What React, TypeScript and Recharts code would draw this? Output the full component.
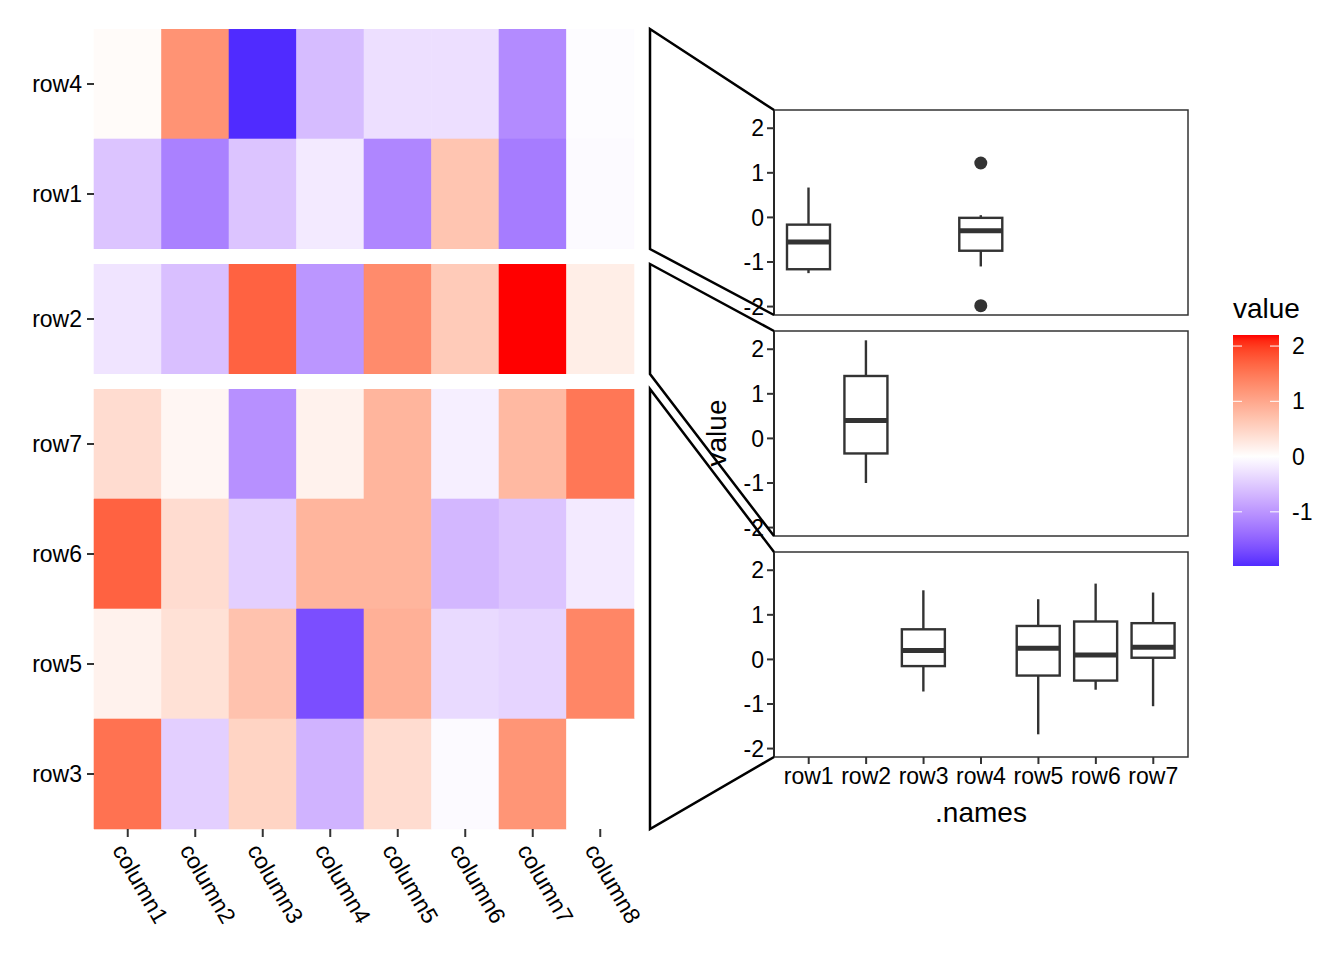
import React from 'react'
import { BarChart, Bar, XAxis, YAxis, Cell, ComposedChart } from 'recharts'

// heatmap values, one array per row, columns 1..8
const columns = ['column1', 'column2', 'column3', 'column4', 'column5', 'column6', 'column7', 'column8']
const rowNames = ['row1', 'row2', 'row3', 'row4', 'row5', 'row6', 'row7']
const row1 = [-0.55, -1.2, -0.55, -0.2, -1.15, 0.67, -1.25, -0.05]
const row2 = [-0.25, -0.6, 1.7, -1.0, 1.3, 0.6, 2.2, 0.2]
const row3 = [1.55, -0.45, 0.5, -0.72, 0.4, -0.05, 1.2, 0.0]
const row4 = [0.05, 1.22, -1.98, -0.63, -0.3, -0.3, -1.1, -0.03]
const row5 = [0.15, 0.35, 0.7, -1.68, 0.9, -0.35, -0.4, 1.35]
const row6 = [1.7, 0.4, -0.45, 0.85, 0.85, -0.68, -0.55, -0.2]
const row7 = [0.4, 0.1, -1.05, 0.15, 0.85, -0.15, 0.8, 1.5]

// row split of the heatmap (top to bottom)
const groups = [
  ['row4', 'row1'],
  ['row2'],
  ['row7', 'row6', 'row5', 'row3'],
]
const legendTicks = [2, 1, 0, -1]
const boxTicks = [-2, -1, 0, 1, 2]

const values: Record<string, number[]> = { row1, row2, row3, row4, row5, row6, row7 }
const all = Object.values(values).flat()
const dataMin = Math.min(...all)
const dataMax = Math.max(...all)
const limit = Math.max(Math.abs(dataMin), Math.abs(dataMax))
const Y_MIN = dataMin - 0.05 * (dataMax - dataMin)
const Y_MAX = dataMax + 0.05 * (dataMax - dataMin)

// --- colour: blue / white / red, interpolated in Lab ---
function toLab(hex: string) {
  const c = [1, 3, 5].map((i) => {
    const v = parseInt(hex.slice(i, i + 2), 16) / 255
    return v <= 0.04045 ? v / 12.92 : Math.pow((v + 0.055) / 1.055, 2.4)
  })
  const X = (0.4124 * c[0] + 0.3576 * c[1] + 0.1805 * c[2]) / 0.95047
  const Y = 0.2126 * c[0] + 0.7152 * c[1] + 0.0722 * c[2]
  const Z = (0.0193 * c[0] + 0.1192 * c[1] + 0.9505 * c[2]) / 1.08883
  const f = (t: number) => (t > 0.008856 ? Math.cbrt(t) : 7.787 * t + 16 / 116)
  return [116 * f(Y) - 16, 500 * (f(X) - f(Y)), 200 * (f(Y) - f(Z))]
}
function fromLab(L: number, a: number, b: number) {
  const fy = (L + 16) / 116
  const fx = fy + a / 500
  const fz = fy - b / 200
  const g = (t: number) => (t ** 3 > 0.008856 ? t ** 3 : (t - 16 / 116) / 7.787)
  const X = g(fx) * 0.95047
  const Y = g(fy)
  const Z = g(fz) * 1.08883
  const lin = [
    3.2406 * X - 1.5372 * Y - 0.4986 * Z,
    -0.9689 * X + 1.8758 * Y + 0.0415 * Z,
    0.0557 * X - 0.204 * Y + 1.057 * Z,
  ]
  return (
    '#' +
    lin
      .map((v) => {
        const s = v <= 0.0031308 ? 12.92 * v : 1.055 * Math.pow(v, 1 / 2.4) - 0.055
        const n = Math.round(Math.min(1, Math.max(0, s)) * 255)
        return n.toString(16).padStart(2, '0')
      })
      .join('')
  )
}
const WHITE = toLab('#ffffff')
const RED = toLab('#ff0000')
const BLUE = toLab('#0000ff')
function fillFor(v: number) {
  const t = Math.min(1, Math.abs(v) / limit)
  const end = v >= 0 ? RED : BLUE
  return fromLab(
    WHITE[0] + (end[0] - WHITE[0]) * t,
    WHITE[1] + (end[1] - WHITE[1]) * t,
    WHITE[2] + (end[2] - WHITE[2]) * t
  )
}

// --- boxplot stats (type 7 quantiles, 1.5 IQR whiskers) ---
function quantile(sorted: number[], p: number) {
  const h = (sorted.length - 1) * p
  const lo = Math.floor(h)
  return sorted[lo] + (h - lo) * ((sorted[lo + 1] ?? sorted[lo]) - sorted[lo])
}
function boxStats(arr: number[]) {
  const s = [...arr].sort((a, b) => a - b)
  const q1 = quantile(s, 0.25)
  const med = quantile(s, 0.5)
  const q3 = quantile(s, 0.75)
  const iqr = q3 - q1
  const inside = s.filter((v) => v >= q1 - 1.5 * iqr && v <= q3 + 1.5 * iqr)
  return {
    q1,
    med,
    q3,
    lo: Math.min(...inside),
    hi: Math.max(...inside),
    out: s.filter((v) => v < q1 - 1.5 * iqr || v > q3 + 1.5 * iqr),
  }
}
const stats: Record<string, ReturnType<typeof boxStats>> = {}
rowNames.forEach((r) => (stats[r] = boxStats(values[r])))

// --- layout ---
const FONT = '"Liberation Sans", Arial, Helvetica, sans-serif'
const TICK_FS = 23
const TITLE_FS = 28
const HM_LEFT = 94
const HM_RIGHT = 634
const ROW_H = 110
const GAP = 15
const HM_TOP = 29
const heatBoxes = (() => {
  let y = HM_TOP
  return groups.map((g) => {
    const top = y
    const bottom = y + g.length * ROW_H
    y = bottom + GAP
    return { top, bottom }
  })
})()
const PANEL_LEFT = 774
const PANEL_RIGHT = 1188
const panelBoxes = [
  { top: 110, bottom: 315 },
  { top: 331, bottom: 536 },
  { top: 552, bottom: 757 },
]
const CONN_X = 650
const LEG_X = 1233
const LEG_W = 46
const LEG_TOP = 335
const LEG_BOT = 566
const legY = (v: number) => LEG_TOP + ((dataMax - v) / (dataMax - dataMin)) * (LEG_BOT - LEG_TOP)

function ColumnTick(props: any) {
  const { x, y, payload } = props
  const name = columns[Math.floor(payload.value)]
  return (
    <g transform={`translate(${x - 9},${y + 7})`}>
      <text transform="rotate(60)" textAnchor="start" dominantBaseline="central" fontSize={TICK_FS} fill="#000">
        {name}
      </text>
    </g>
  )
}

function HeatGroup({ rows, top, bottom, showX }: { rows: string[]; top: number; bottom: number; showX: boolean }) {
  const data = rows.map((r) => {
    const o: Record<string, any> = { name: r }
    columns.forEach((c) => (o[c] = 1))
    return o
  })
  const extra = showX ? 125 : 0
  const padR = 50
  return (
    <div style={{ position: 'absolute', left: 0, top }}>
      <BarChart
        width={HM_RIGHT + padR}
        height={bottom - top + extra}
        data={data}
        layout="vertical"
        margin={{ top: 0, right: padR, bottom: 0, left: 0 }}
        barCategoryGap={0}
        barGap={0}
      >
        <XAxis
          type="number"
          domain={[0, columns.length]}
          ticks={columns.map((_, i) => i + 0.5)}
          hide={!showX}
          height={extra}
          axisLine={false}
          tickSize={8}
          tickLine={{ stroke: '#333', strokeWidth: 2 }}
          tick={<ColumnTick />}
          interval={0}
        />
        <YAxis
          type="category"
          dataKey="name"
          width={HM_LEFT}
          axisLine={false}
          tickSize={7}
          tickMargin={5}
          tickLine={{ stroke: '#333', strokeWidth: 2 }}
          tick={{ fontSize: TICK_FS, fill: '#000' }}
        />
        {columns.map((c, ci) => (
          <Bar key={c} dataKey={c} stackId="h" isAnimationActive={false}>
            {rows.map((r) => {
              const f = fillFor(values[r][ci])
              return <Cell key={r} fill={f} stroke={f} strokeWidth={0.6} />
            })}
          </Bar>
        ))}
      </BarChart>
    </div>
  )
}

function BoxShape(props: any) {
  const { x, y, width, height, payload } = props
  const s = payload && payload.stats
  if (!s || x == null || y == null) return null
  const top = Math.min(y, y + height)
  const bot = Math.max(y, y + height)
  const pix = (v: number) => top + ((s.hi - v) / (s.hi - s.lo || 1)) * (bot - top)
  const cx = x + width / 2
  const col = '#333333'
  return (
    <g>
      <line x1={cx} x2={cx} y1={pix(s.hi)} y2={pix(s.q3)} stroke={col} strokeWidth={2.4} />
      <line x1={cx} x2={cx} y1={pix(s.q1)} y2={pix(s.lo)} stroke={col} strokeWidth={2.4} />
      <rect x={x} y={pix(s.q3)} width={width} height={pix(s.q1) - pix(s.q3)} fill="#fff" stroke={col} strokeWidth={2.4} />
      <line x1={x} x2={x + width} y1={pix(s.med)} y2={pix(s.med)} stroke={col} strokeWidth={5} />
      {s.out.map((o: number, i: number) => (
        <circle key={i} cx={cx} cy={pix(o)} r={6.5} fill={col} />
      ))}
    </g>
  )
}

function BoxPanel({ rows, top, bottom, showX }: { rows: string[]; top: number; bottom: number; showX: boolean }) {
  const data = rowNames.map((name) => {
    const s = rows.includes(name) ? stats[name] : null
    return { name, range: s ? [s.lo, s.hi] : null, stats: s }
  })
  const yw = 74
  const pad = 14
  const extra = showX ? 80 : pad
  return (
    <div style={{ position: 'absolute', left: PANEL_LEFT - yw, top: top - pad }}>
      <ComposedChart
        width={yw + (PANEL_RIGHT - PANEL_LEFT) + 4}
        height={bottom - top + pad + extra}
        data={data}
        margin={{ top: pad, right: 4, bottom: showX ? 0 : pad, left: 0 }}
      >
        <XAxis
          dataKey="name"
          type="category"
          padding={{ left: 6, right: 6 }}
          hide={!showX}
          height={showX ? extra : 0}
          axisLine={false}
          tickSize={7}
          tickMargin={4}
          tickLine={{ stroke: '#333', strokeWidth: 2 }}
          tick={{ fontSize: TICK_FS, fill: '#000' }}
          interval={0}
        />
        <YAxis
          type="number"
          domain={[Y_MIN, Y_MAX]}
          ticks={boxTicks}
          interval={0}
          allowDataOverflow
          width={yw}
          tickSize={7}
          tickMargin={3}
          axisLine={{ stroke: '#000', strokeWidth: 2 }}
          tickLine={{ stroke: '#333', strokeWidth: 2 }}
          tick={{ fontSize: TICK_FS, fill: '#000' }}
        />
        <Bar dataKey="range" barSize={43} shape={<BoxShape />} isAnimationActive={false} />
      </ComposedChart>
    </div>
  )
}

export default function App() {
  const stops = Array.from({ length: 41 }, (_, i) => {
    const v = dataMax - (i / 40) * (dataMax - dataMin)
    return { off: i / 40, color: fillFor(v) }
  })
  return (
    <div style={{ position: 'absolute', left: 0, top: 0, width: 1344, height: 960, background: '#fff', fontFamily: FONT }}>
      {groups.map((g, i) => (
        <HeatGroup key={i} rows={g} top={heatBoxes[i].top} bottom={heatBoxes[i].bottom} showX={i === groups.length - 1} />
      ))}
      {groups.map((g, i) => (
        <BoxPanel key={i} rows={g} top={panelBoxes[i].top} bottom={panelBoxes[i].bottom} showX={i === groups.length - 1} />
      ))}
      <svg width={1344} height={960} style={{ position: 'absolute', left: 0, top: 0, pointerEvents: 'none' }}>
        {panelBoxes.map((p, i) => (
          <rect key={'p' + i} x={PANEL_LEFT} y={p.top} width={PANEL_RIGHT - PANEL_LEFT} height={p.bottom - p.top} fill="none" stroke="#333" strokeWidth={1.5} />
        ))}
        {groups.map((_, i) => {
          const h = heatBoxes[i]
          const p = panelBoxes[i]
          return (
            <polyline
              key={'c' + i}
              points={`${PANEL_LEFT},${p.top} ${CONN_X},${h.top} ${CONN_X},${h.bottom} ${PANEL_LEFT},${p.bottom}`}
              fill="none"
              stroke="#000"
              strokeWidth={2.5}
            />
          )
        })}
        <text x={716} y={433} transform="rotate(-90 716 433)" textAnchor="middle" dominantBaseline="central" fontSize={TITLE_FS} fill="#000">
          value
        </text>
        <text x={(PANEL_LEFT + PANEL_RIGHT) / 2} y={822} textAnchor="middle" fontSize={TITLE_FS} fill="#000">
          .names
        </text>
        <defs>
          <linearGradient id="leg" x1="0" y1="0" x2="0" y2="1">
            {stops.map((s, i) => (
              <stop key={i} offset={s.off} stopColor={s.color} />
            ))}
          </linearGradient>
        </defs>
        <text x={LEG_X} y={318} fontSize={TITLE_FS} fill="#000">
          value
        </text>
        <rect x={LEG_X} y={LEG_TOP} width={LEG_W} height={LEG_BOT - LEG_TOP} fill="url(#leg)" />
        {legendTicks.map((t) => (
          <g key={t}>
            <line x1={LEG_X} x2={LEG_X + 9} y1={legY(t)} y2={legY(t)} stroke="#fff" strokeWidth={1} />
            <line x1={LEG_X + LEG_W - 9} x2={LEG_X + LEG_W} y1={legY(t)} y2={legY(t)} stroke="#fff" strokeWidth={1} />
            <text x={LEG_X + LEG_W + 13} y={legY(t)} dominantBaseline="central" fontSize={TICK_FS} fill="#000">
              {t}
            </text>
          </g>
        ))}
      </svg>
    </div>
  )
}
